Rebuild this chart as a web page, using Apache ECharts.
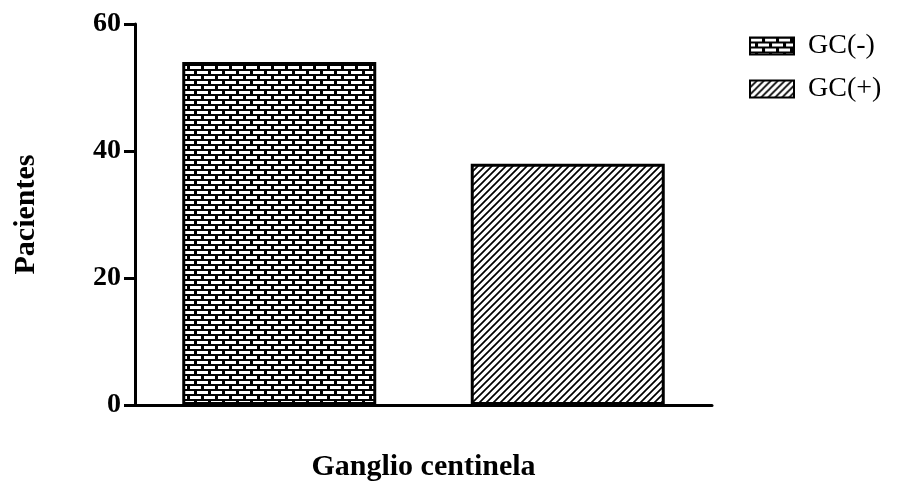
<!DOCTYPE html>
<html><head><meta charset="utf-8">
<script src="https://cdn.jsdelivr.net/npm/echarts@6/dist/echarts.min.js"></script>
<style>html,body{margin:0;padding:0;background:#fff}#c{width:901px;height:481px}</style>
</head><body><div id="c"></div>
<script>
const categories = ['GC(-)', 'GC(+)'];
const seriesNames = ['GC(-)', 'GC(+)'];
const values = [54, 38];
const yTicks = [0, 20, 40, 60];

function brick() {
  const c = document.createElement('canvas');
  c.width = 14; c.height = 10;
  const g = c.getContext('2d');
  g.fillStyle = '#000'; g.fillRect(0, 0, 14, 10);
  g.fillStyle = '#fff';
  g.fillRect(1, 1, 11, 3);
  g.fillRect(8, 6, 11, 3); g.fillRect(-6, 6, 11, 3);
  return c;
}
function hatch() {
  const c = document.createElement('canvas');
  c.width = 7; c.height = 7;
  const g = c.getContext('2d');
  g.fillStyle = '#fff'; g.fillRect(0, 0, 7, 7);
  g.strokeStyle = '#000'; g.lineWidth = 1.7;
  g.beginPath();
  g.moveTo(-1, 8); g.lineTo(8, -1);
  g.moveTo(-8, 8); g.lineTo(1, -1);
  g.moveTo(6, 8); g.lineTo(15, -1);
  g.stroke();
  return c;
}
const patterns = [brick(), hatch()];
const font = 'Liberation Serif';
const chart = echarts.init(document.getElementById('c'));
chart.setOption({
  animation: false,
  backgroundColor: '#fff',
  grid: { left: 135, right: 189, top: 24, bottom: 76, outerBoundsMode: 'none' },
  legend: {
    orient: 'vertical', left: 744, top: 27, itemWidth: 44, itemHeight: 17, itemGap: 15,
    icon: 'rect',
    textStyle: { fontFamily: font, fontSize: 28, color: '#000', padding: [0, 0, 0, 9] },
    data: seriesNames
  },
  xAxis: {
    type: 'category', data: categories,
    name: 'Ganglio centinela', nameLocation: 'middle', nameGap: 47,
    nameTextStyle: { fontFamily: font, fontSize: 30, fontWeight: 'bold', color: '#000' },
    axisLine: { lineStyle: { color: '#000', width: 3 } },
    axisTick: { show: false }, axisLabel: { show: false }
  },
  yAxis: {
    type: 'value', min: 0, max: 60, interval: 20,
    name: 'Pacientes', nameLocation: 'middle', nameGap: 94, nameRotate: 90,
    nameTextStyle: { fontFamily: font, fontSize: 30, fontWeight: 'bold', color: '#000' },
    axisLine: { show: true, lineStyle: { color: '#000', width: 3 } },
    axisTick: { show: true, length: 11, lineStyle: { color: '#000', width: 3 } },
    axisLabel: { fontFamily: font, fontSize: 28, fontWeight: 'bold', color: '#000', margin: 14,
      formatter: v => yTicks.includes(v) ? String(v) : '' },
    splitLine: { show: false }
  },
  series: seriesNames.map((n, i) => ({
    name: n, type: 'bar', stack: 'a', barWidth: 194,
    data: categories.map((c, j) => j === i ? values[i] : '-'),
    itemStyle: { color: { image: patterns[i], repeat: 'repeat' }, borderColor: '#000', borderWidth: 3 }
  }))
});
</script></body></html>
